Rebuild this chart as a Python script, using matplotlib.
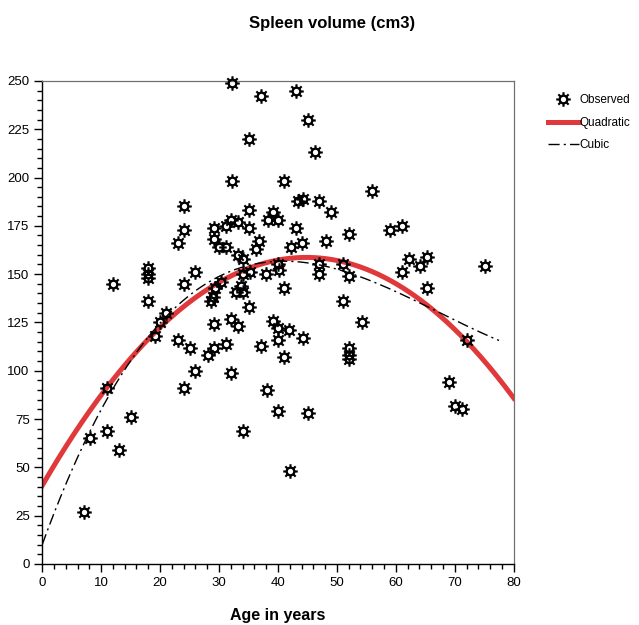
import numpy as np
import matplotlib
matplotlib.use("Agg")
import matplotlib.pyplot as plt
from matplotlib.path import Path
from matplotlib.ticker import MultipleLocator
from matplotlib.lines import Line2D

plt.rcParams['font.family'] = ['Liberation Sans', 'DejaVu Sans']

# observed points (age in years, spleen volume cm3)
age = [7.1, 8.1, 11, 13, 15, 11, 12, 18, 18, 18, 18, 19.2, 20, 21, 23, 23, 24, 24, 24, 24,
       25, 26, 26, 28.2, 29.1, 31.1, 28.9, 28.6, 29.1, 29.1, 29.1, 30, 31.1, 31.1, 32, 33.2,
       35.1, 35.1, 32.2, 32.2, 37.1, 43.1, 45.1, 35.1, 46.2, 41, 55.9, 43.4, 44.3, 47,
       49, 39.2, 38.3, 40, 43.1, 52.1, 48.2, 36.8, 36.3, 33.2, 34, 42.2, 44, 40, 40.2,
       47, 47, 51.1, 52, 30.3, 29.4, 34, 35.2, 33.7, 34, 38, 41.1, 32.8, 51.1, 35.1,
       32, 33.2, 39.2, 40, 40, 41.9, 44.3, 54.2, 37.1, 41.1, 52, 52, 52, 32, 38.2,
       40, 45.1, 34, 42.1, 59, 61, 62.2, 61, 65.3, 64.1, 65.3, 75.2, 72.1, 69, 70, 71.2]
volume = [27, 65, 69, 59, 76, 91, 145, 153, 150, 148, 136, 118, 125, 130, 116, 166, 173, 185, 145, 91,
          112, 151, 100, 108, 112, 114, 138, 136, 124, 168, 174, 164, 164, 175, 178, 177,
          174, 183, 198, 249, 242, 245, 230, 220, 213, 198, 193, 188, 189, 188,
          182, 182, 178, 178, 174, 171, 167, 167, 163, 160, 158, 164, 166, 155, 152,
          155, 150, 155, 149, 146, 143, 150, 151, 144, 141, 150, 143, 141, 136, 133,
          127, 123, 126, 122, 116, 121, 117, 125, 113, 107, 112, 108, 106, 99, 90,
          79, 78, 69, 48, 173, 175, 158, 151, 159, 154, 143, 154, 116, 94, 82, 80]

x_ticks = np.arange(0, 81, 10)
y_ticks = np.arange(0, 251, 25)


def gear_marker(n=8):
    pts = []
    for i in range(n):
        a = np.deg2rad(i * 360 / n)
        for da, r in [(-13, 0.68), (-8, 1.0), (8, 1.0), (13, 0.68)]:
            t = a + np.deg2rad(da)
            pts.append((r * np.cos(t), r * np.sin(t)))
    outer = pts + [pts[0]]
    codes = [Path.MOVETO] + [Path.LINETO] * (len(pts) - 1) + [Path.CLOSEPOLY]
    th = np.linspace(0, -2 * np.pi, 25)
    inner = [(0.36 * np.cos(t), 0.36 * np.sin(t)) for t in th]
    codes += [Path.MOVETO] + [Path.LINETO] * (len(inner) - 2) + [Path.CLOSEPOLY]
    return Path(outer + inner, codes)


gear = gear_marker()

fig = plt.figure(figsize=(6.39, 6.25), dpi=100)
ax = fig.add_axes([0.066, 0.0976, 0.738, 0.773])

x = np.array(age)
y = np.array(volume)

# quadratic and cubic fits of the observed data
quad = np.poly1d(np.polyfit(x, y, 2))
cub = np.poly1d(np.polyfit(x, y, 3))
xq = np.linspace(0, 80, 300)
xc = np.linspace(0, 77.5, 300)

ax.plot(x, y, linestyle='none', marker=gear, markersize=10.5, color='black',
        markeredgewidth=0, clip_on=False, zorder=3)
ax.plot(xq, quad(xq), color='#e0393b', lw=3.6, zorder=2)
ax.plot(xc, cub(xc), color='black', lw=1.0, linestyle=(0, (8, 3, 1.5, 3)), zorder=4)

ax.set_xlim(0, 80)
ax.set_ylim(0, 250)
ax.set_xticks(x_ticks)
ax.set_yticks(y_ticks)
ax.xaxis.set_minor_locator(MultipleLocator(2))
ax.yaxis.set_minor_locator(MultipleLocator(5))
ax.tick_params(which='major', direction='out', length=6, width=1, labelsize=9.5, pad=3)
ax.tick_params(which='minor', direction='out', length=3.5, width=1)
ax.tick_params(top=False, right=False)
for s in ['top', 'right']:
    ax.spines[s].set_color('#707070')
    ax.spines[s].set_linewidth(0.9)
for s in ['left', 'bottom']:
    ax.spines[s].set_linewidth(1.0)

ax.set_xlabel('Age in years', fontsize=11.5, fontweight='bold', labelpad=14)
fig.text(0.52, 0.962, 'Spleen volume (cm3)', fontsize=12, fontweight='bold',
         ha='center', va='center')

handles = [
    Line2D([], [], linestyle='none', marker=gear, markersize=10.5, color='black', markeredgewidth=0),
    Line2D([], [], color='#e0393b', lw=3.6),
    Line2D([], [], color='black', lw=1.0, linestyle=(0, (8, 3, 1.5, 3))),
]
fig.legend(handles, ['Observed', 'Quadratic', 'Cubic'], loc='upper left',
           bbox_to_anchor=(0.85, 0.857), frameon=False, fontsize=8.5,
           handlelength=2.6, handletextpad=0.05, labelspacing=0.9, borderaxespad=0)

fig.savefig('out.png', dpi=100)
